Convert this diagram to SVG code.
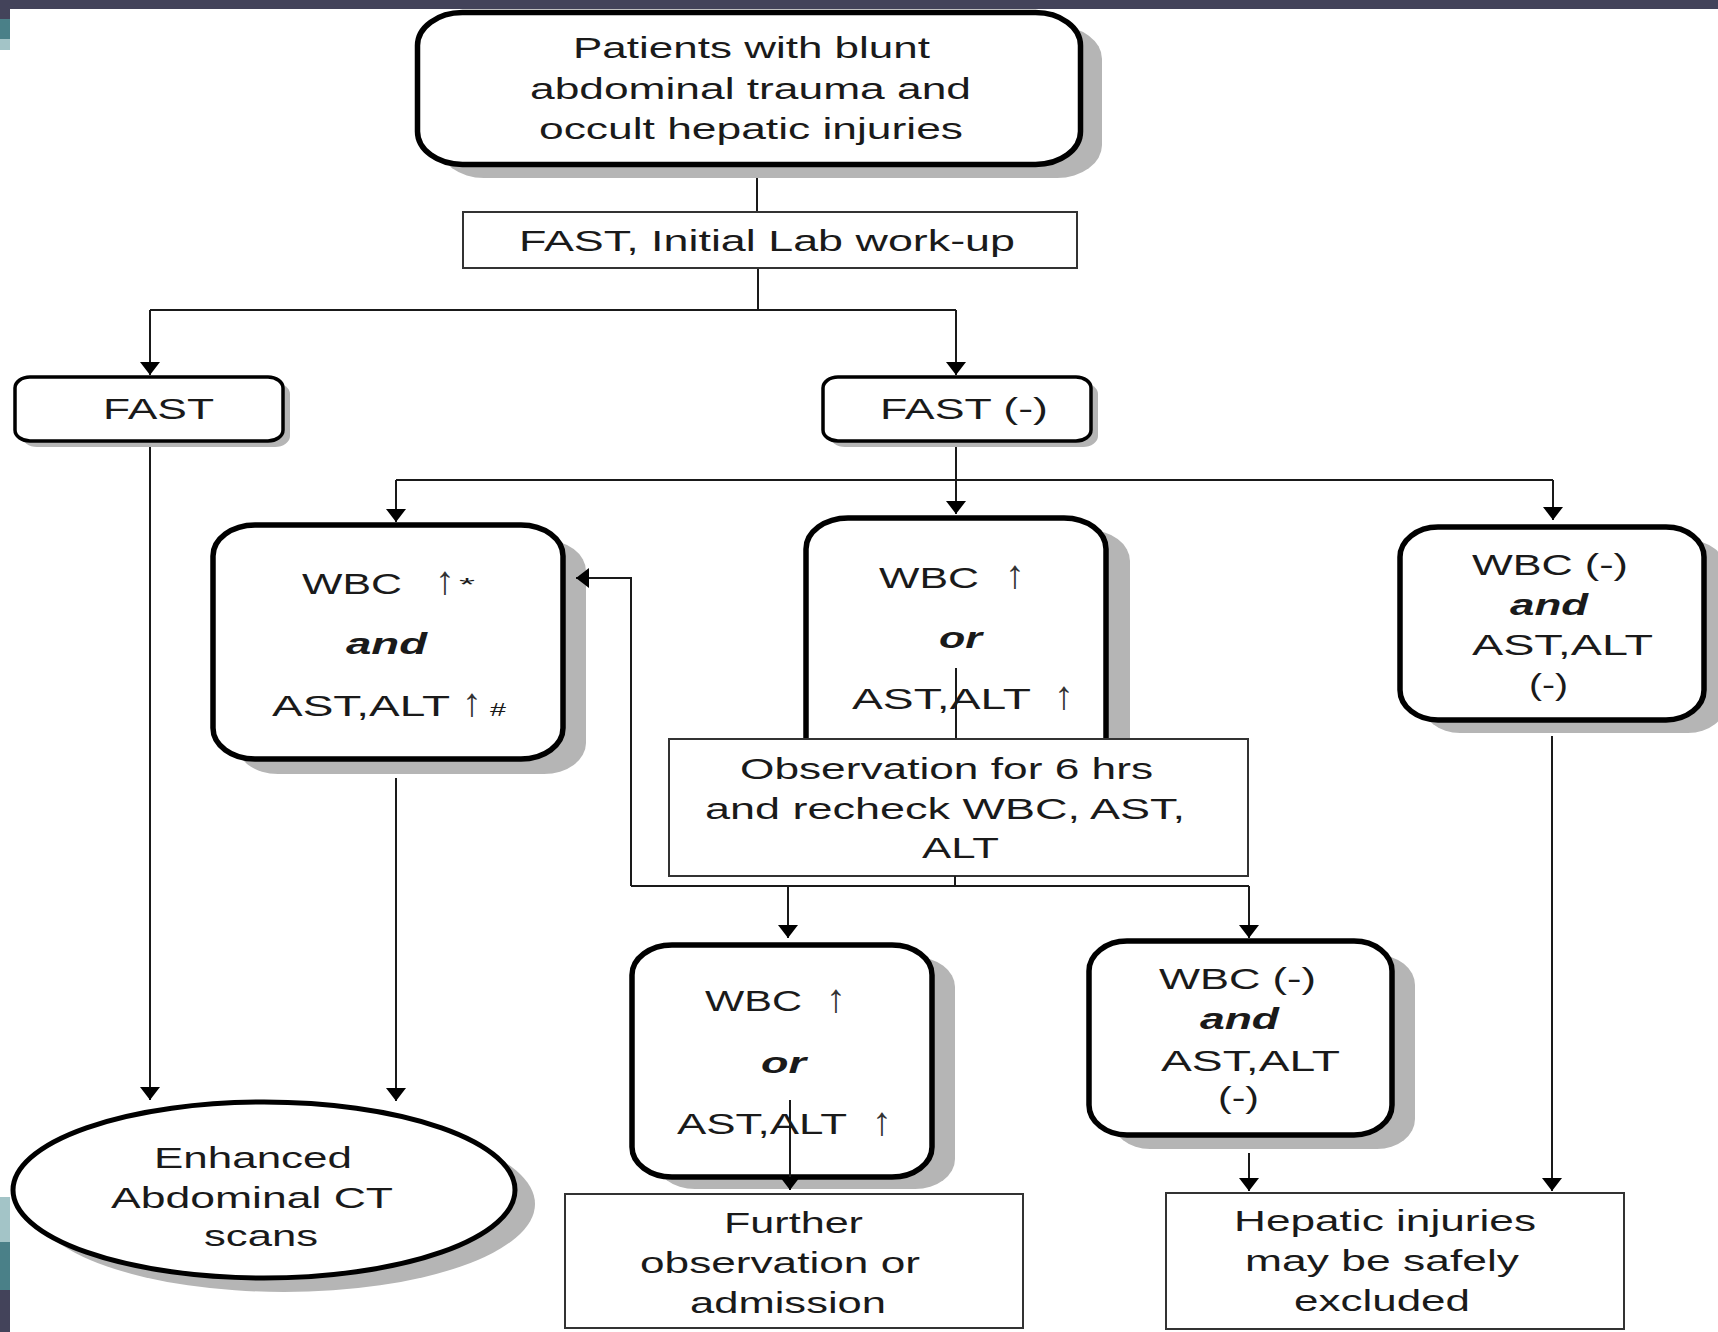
<svg xmlns="http://www.w3.org/2000/svg" width="1718" height="1332" viewBox="0 0 1718 1332">
<style>
.t{font-family:"Liberation Sans",Arial,sans-serif;font-size:29px;fill:#1a1a1a}
.big{font-size:30px}
.bi{font-weight:bold;font-style:italic}
.ar{font-family:"Liberation Sans",Arial,sans-serif;font-size:40px;fill:#333;text-anchor:middle}
.sm{font-size:19px}
.rb{fill:#fff;stroke:#000;stroke-width:5.5}
.fb{fill:#fff;stroke:#000;stroke-width:3.5}
.pb{fill:#fff;stroke:#333;stroke-width:2}
.sh{fill:#b5b5b5}
.c{fill:none;stroke:#1a1a1a;stroke-width:2}
.ca{fill:none;stroke:#1a1a1a;stroke-width:2;marker-end:url(#ah)}
</style>
<defs>
<marker id="ah" markerUnits="userSpaceOnUse" markerWidth="13" markerHeight="20" viewBox="0 0 13 20" refX="13" refY="10" orient="auto">
<path d="M0,0 L13,10 L0,20 z" fill="#000"/>
</marker>
</defs>
<rect width="1718" height="1332" fill="#fff"/>
<g id="decor">
<rect x="0" y="0" width="1718" height="9" fill="#43435a"/>
<rect x="0" y="9" width="10" height="10" fill="#43435a"/>
<rect x="0" y="19" width="10" height="20" fill="#4a8088"/>
<rect x="0" y="39" width="10" height="11" fill="#a3c4c7"/>
<rect x="0" y="1197" width="10" height="45" fill="#a3c4c7"/>
<rect x="0" y="1242" width="10" height="48" fill="#4a8088"/>
<rect x="0" y="1290" width="10" height="42" fill="#43435a"/>
</g>

<g id="connectors">
<line class="c" x1="757" y1="167" x2="757" y2="212"/>
<line class="c" x1="758" y1="268" x2="758" y2="310"/>
<line class="c" x1="150" y1="310" x2="956" y2="310"/>
<line class="ca" x1="150" y1="310" x2="150" y2="375"/>
<line class="ca" x1="956" y1="310" x2="956" y2="375"/>
<line class="ca" x1="150" y1="443" x2="150" y2="1100"/>
<line class="ca" x1="956" y1="443" x2="956" y2="514"/>
<line class="c" x1="396" y1="480" x2="1553" y2="480"/>
<line class="ca" x1="396" y1="480" x2="396" y2="522"/>
<line class="ca" x1="1553" y1="480" x2="1553" y2="520"/>
<line class="ca" x1="396" y1="778" x2="396" y2="1101"/>
<line class="ca" x1="1552" y1="736" x2="1552" y2="1191"/>
</g>

<g id="n-top">
<rect class="sh" x="439" y="26" width="663" height="152" rx="45" ry="33"/>
<rect class="rb" x="417.5" y="12.5" width="663" height="152" rx="45" ry="33" stroke-width="5"/>
<text class="t big" x="573" y="58" textLength="357" lengthAdjust="spacingAndGlyphs">Patients with blunt</text>
<text class="t big" x="530" y="99" textLength="441" lengthAdjust="spacingAndGlyphs">abdominal trauma and</text>
<text class="t big" x="539" y="139" textLength="424" lengthAdjust="spacingAndGlyphs">occult hepatic injuries</text>
</g>

<g id="n-lab">
<rect class="pb" x="463" y="212" width="614" height="56"/>
<text class="t" x="519" y="251" textLength="496" lengthAdjust="spacingAndGlyphs">FAST, Initial Lab work-up</text>
</g>

<g id="n-fastpos">
<rect class="sh" x="22" y="383" width="268" height="64" rx="15" ry="11"/>
<rect class="fb" x="15" y="377" width="268" height="64" rx="15" ry="11"/>
<text class="t" x="103" y="419" textLength="111" lengthAdjust="spacingAndGlyphs">FAST</text>
</g>

<g id="n-fastneg">
<rect class="sh" x="830" y="383" width="268" height="64" rx="15" ry="11"/>
<rect class="fb" x="823" y="377" width="268" height="64" rx="15" ry="11"/>
<text class="t" x="880" y="419" textLength="168" lengthAdjust="spacingAndGlyphs">FAST (-)</text>
</g>

<g id="n-left">
<rect class="sh" x="236" y="540" width="350" height="234" rx="42" ry="31"/>
<rect class="rb" x="213" y="525" width="350" height="234" rx="42" ry="31"/>
<text class="t" x="302" y="594" textLength="100" lengthAdjust="spacingAndGlyphs">WBC</text>
<text class="ar" x="445" y="594">↑</text>
<text class="t sm" x="459" y="591" textLength="16" lengthAdjust="spacingAndGlyphs">*</text>
<text class="t bi" x="346" y="654" textLength="81" lengthAdjust="spacingAndGlyphs">and</text>
<text class="t" x="272" y="716" textLength="178" lengthAdjust="spacingAndGlyphs">AST,ALT</text>
<text class="ar" x="472" y="716">↑</text>
<text class="t sm" x="490" y="716" textLength="16" lengthAdjust="spacingAndGlyphs">#</text>
</g>

<g id="n-mid">
<rect class="sh" x="830" y="530" width="300" height="260" rx="42" ry="31"/>
<rect class="rb" x="806" y="518" width="300" height="260" rx="42" ry="31"/>
<text class="t" x="879" y="588" textLength="100" lengthAdjust="spacingAndGlyphs">WBC</text>
<text class="ar" x="1015" y="588">↑</text>
<text class="t bi" x="939" y="648" textLength="43" lengthAdjust="spacingAndGlyphs">or</text>
<text class="t" x="852" y="709" textLength="179" lengthAdjust="spacingAndGlyphs">AST,ALT</text>
<text class="ar" x="1064" y="709">↑</text>
</g>

<g id="n-right">
<rect class="sh" x="1422" y="540" width="304" height="193" rx="38" ry="30"/>
<rect class="rb" x="1400" y="527" width="304" height="193" rx="38" ry="30"/>
<text class="t" x="1472" y="575" textLength="156" lengthAdjust="spacingAndGlyphs">WBC (-)</text>
<text class="t bi" x="1510" y="615" textLength="78" lengthAdjust="spacingAndGlyphs">and</text>
<text class="t" x="1472" y="655" textLength="181" lengthAdjust="spacingAndGlyphs">AST,ALT</text>
<text class="t" x="1529" y="695" textLength="39" lengthAdjust="spacingAndGlyphs">(-)</text>
</g>

<g id="connectors-inner">
<line class="c" x1="956" y1="668" x2="956" y2="739"/>
</g>

<g id="n-obs">
<rect class="pb" x="669" y="739" width="579" height="137"/>
<text class="t big" x="740" y="779" textLength="413" lengthAdjust="spacingAndGlyphs">Observation for 6 hrs</text>
<text class="t big" x="705" y="819" textLength="480" lengthAdjust="spacingAndGlyphs">and recheck WBC, AST,</text>
<text class="t big" x="922" y="858" textLength="77" lengthAdjust="spacingAndGlyphs">ALT</text>
</g>

<g id="connectors-lower">
<line class="c" x1="955" y1="876" x2="955" y2="886"/>
<line class="c" x1="631" y1="886" x2="1249" y2="886"/>
<path class="ca" d="M631,886 V578 H576"/>
<line class="ca" x1="788" y1="886" x2="788" y2="938"/>
<line class="ca" x1="1249" y1="886" x2="1249" y2="938"/>
<line class="ca" x1="1249" y1="1153" x2="1249" y2="1191"/>
</g>

<g id="n-ct">
<ellipse class="sh" cx="284" cy="1204" rx="251" ry="88"/>
<ellipse cx="264" cy="1190" rx="251" ry="88" fill="#fff" stroke="#000" stroke-width="5"/>
<text class="t" x="154" y="1168" textLength="198" lengthAdjust="spacingAndGlyphs">Enhanced</text>
<text class="t" x="111" y="1208" textLength="282" lengthAdjust="spacingAndGlyphs">Abdominal CT</text>
<text class="t" x="204" y="1246" textLength="114" lengthAdjust="spacingAndGlyphs">scans</text>
</g>

<g id="n-ll">
<rect class="sh" x="655" y="957" width="300" height="232" rx="40" ry="30"/>
<rect class="rb" x="632" y="945" width="300" height="232" rx="40" ry="30"/>
<text class="t" x="705" y="1011" textLength="97" lengthAdjust="spacingAndGlyphs">WBC</text>
<text class="ar" x="836" y="1012">↑</text>
<text class="t bi" x="761" y="1073" textLength="45" lengthAdjust="spacingAndGlyphs">or</text>
<text class="t" x="677" y="1134" textLength="170" lengthAdjust="spacingAndGlyphs">AST,ALT</text>
<text class="ar" x="882" y="1135">↑</text>
</g>

<g id="n-lr">
<rect class="sh" x="1112" y="955" width="303" height="194" rx="38" ry="30"/>
<rect class="rb" x="1089" y="941" width="303" height="194" rx="38" ry="30"/>
<text class="t" x="1159" y="989" textLength="157" lengthAdjust="spacingAndGlyphs">WBC (-)</text>
<text class="t bi" x="1200" y="1029" textLength="79" lengthAdjust="spacingAndGlyphs">and</text>
<text class="t" x="1161" y="1071" textLength="179" lengthAdjust="spacingAndGlyphs">AST,ALT</text>
<text class="t" x="1218" y="1108" textLength="41" lengthAdjust="spacingAndGlyphs">(-)</text>
</g>

<g id="n-further">
<rect class="pb" x="565" y="1194" width="458" height="134"/>
<text class="t" x="724" y="1233" textLength="139" lengthAdjust="spacingAndGlyphs">Further</text>
<text class="t" x="640" y="1273" textLength="280" lengthAdjust="spacingAndGlyphs">observation or</text>
<text class="t" x="690" y="1313" textLength="196" lengthAdjust="spacingAndGlyphs">admission</text>
</g>

<g id="n-hepatic">
<rect class="pb" x="1166" y="1193" width="458" height="136"/>
<text class="t" x="1234" y="1231" textLength="302" lengthAdjust="spacingAndGlyphs">Hepatic injuries</text>
<text class="t" x="1245" y="1271" textLength="274" lengthAdjust="spacingAndGlyphs">may be safely</text>
<text class="t" x="1294" y="1311" textLength="176" lengthAdjust="spacingAndGlyphs">excluded</text>
</g>

<g id="connectors-top">
<line class="ca" x1="790" y1="1100" x2="790" y2="1190"/>
</g>
</svg>
